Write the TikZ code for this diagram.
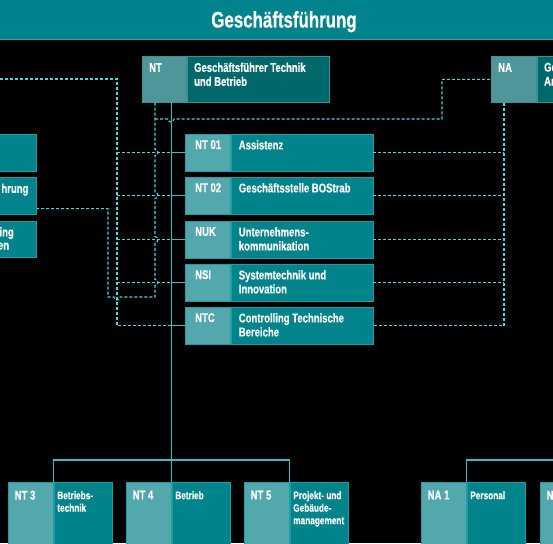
\documentclass[tikz,border=0pt]{standalone}
\usepackage{fontspec}
\newfontfamily\orgfont{Liberation Sans}[FakeStretch=0.75,FakeBold=0.6]
\usetikzlibrary{calc}
\definecolor{hdr}{HTML}{00838C}
\definecolor{hdrline}{HTML}{2EA3AB}
\definecolor{lpart}{HTML}{52A8AD}
\definecolor{dpart}{HTML}{00838B}
\definecolor{ntl}{HTML}{4E9699}
\definecolor{ntd}{HTML}{00676B}
\definecolor{edgec}{HTML}{1E9DA5}
\definecolor{ntedge}{HTML}{3E9094}
\definecolor{dashc}{HTML}{4ED5DD}
\definecolor{solidc}{HTML}{40BAC2}
\newcommand\listrow[4]{%
  \node[lightpart,minimum width=45pt,minimum height=37pt] (lc#1) at (185,#2) {};
  \node[darkpart,minimum width=142pt,minimum height=37pt] (ld#1) at (lc#1.north east) {};
  \node[codetxt] (lct#1) at ([shift={(10pt,-6pt)}]lc#1.north west) {#3};
  \node[nametxt] (ldt#1) at ([shift={(8pt,-6pt)}]ld#1.north west) {#4};
}
\newcommand\botrow[4]{%
  \node[lightpart,minimum width=45pt,minimum height=70pt] (#1c) at (#2,482) {};
  \node[darkpart,minimum width=58pt,minimum height=70pt] (#1) at (#1c.north east) {};
  \node[codetxt] (#1ct) at ([shift={(6.5pt,-8.5pt)}]#1c.north west) {#3};
  \node[smalltxt] (#1t) at ([shift={(3.5pt,-9pt)}]#1.north west) {#4};
}
\begin{document}
\begin{tikzpicture}[x=1pt,y=-1pt,
  lightpart/.style={rectangle,fill=lpart,draw=edgec,line width=0.6pt,inner sep=0pt,anchor=north west},
  darkpart/.style={rectangle,fill=dpart,draw=edgec,line width=0.6pt,inner sep=0pt,anchor=north west},
  codetxt/.style={anchor=north west,inner sep=0pt,text=white,align=left,font=\orgfont\bfseries\fontsize{12.7}{14}\selectfont},
  nametxt/.style={anchor=north west,inner sep=0pt,text=white,align=left,font=\orgfont\bfseries\fontsize{12.7}{14}\selectfont},
  smalltxt/.style={anchor=north west,inner sep=0pt,text=white,align=left,font=\orgfont\bfseries\fontsize{11}{12.5}\selectfont},
  titletxt/.style={anchor=base,inner sep=0pt,text=white,font=\orgfont\bfseries\fontsize{22.5}{26}\selectfont},
  dline/.style={draw=dashc,line width=1.1pt,dash pattern=on 3pt off 2pt},
  sline/.style={draw=solidc,line width=1.3pt}]
\fill[black] (0,0) rectangle (553,543);
\useasboundingbox (0,0) rectangle (553,543);
\clip (0,0) rectangle (553,543);
% header
\fill[hdr] (0,0) rectangle (553,39);
\draw[hdrline,line width=1.4pt] (0,39.3) -- (553,39.3);
\node[titletxt] (title) at (284,27.5) {Geschäftsführung};
% NT box
\node[lightpart,fill=ntl,draw=ntedge,minimum width=44pt,minimum height=46pt] (ntc) at (142,56) {};
\node[darkpart,fill=ntd,draw=ntedge,minimum width=142pt,minimum height=46pt] (nt) at (ntc.north east) {};
\node[codetxt] (ntct) at ([shift={(7pt,-7pt)}]ntc.north west) {NT};
\node[nametxt] (ntt) at ([shift={(7.3pt,-6.5pt)}]nt.north west) {Geschäftsführer Technik\\und Betrieb};
% NA box
\node[lightpart,fill=ntl,draw=ntedge,minimum width=45pt,minimum height=46pt] (nac) at (491,56) {};
\node[darkpart,fill=ntd,draw=ntedge,minimum width=150pt,minimum height=46pt] (na) at (nac.north east) {};
\node[codetxt] (nact) at ([shift={(7pt,-7pt)}]nac.north west) {NA};
\node[nametxt] (nat) at ([shift={(7.3pt,-6.5pt)}]na.north west) {Ge\\Ar};
% left boxes (cut off)
\node[darkpart,minimum width=50pt,minimum height=37pt] (lf1) at (-14,134) {};
\node[darkpart,minimum width=50pt,minimum height=37pt] (lf2) at (-14,177) {};
\node[darkpart,minimum width=50pt,minimum height=36pt] (lf3) at (-14,221) {};
\node[nametxt,anchor=north east] (lf2t) at ([shift={(-8pt,-6.5pt)}]lf2.north east) {hrung};
\node[nametxt,anchor=north east] (lf3t) at (14,227) {ing};
\node[nametxt,anchor=base east] (lf3u) at (9.3,249.5) {en};
% list boxes
\listrow{1}{134}{NT 01}{Assistenz}
\listrow{2}{177}{NT 02}{Geschäftsstelle BOStrab}
\listrow{3}{221}{NUK}{Unternehmens-\\kommunikation}
\listrow{4}{264}{NSI}{Systemtechnik und\\Innovation}
\listrow{5}{307}{NTC}{Controlling Technische\\Bereiche}
% bottom boxes
\botrow{nt3}{8}{NT 3}{Betriebs-\\technik}
\botrow{nt4}{126}{NT 4}{Betrieb}
\botrow{nt5}{244}{NT 5}{Projekt- und\\Gebäude-\\management}
\botrow{na1}{421}{NA 1}{Personal}
\botrow{na2}{540}{NA 2}{}
% coordinates
\coordinate (gfin) at (-5,79);
\coordinate (ax) at ([xshift=-68pt]lc5.west);
\coordinate (bx) at ([xshift=13pt]ntc.south west);
\coordinate (bj) at (155,119);
\coordinate (dx) at ([xshift=13pt]nac.south west);
\coordinate (rbus) at (560,460);
% dashed: left management to staff units
\draw[dline] (gfin) -| (ax) -- (lc5.west);
\foreach \i in {1,...,4} \draw[dline] (lc\i.west -| ax) -- (lc\i.west);
% dashed: NT down to left unit
\draw[dline] (bx) -- (155,149.5) .. controls (159,149.5) and (159,155.5) .. (155,155.5)
  -- (155,192.5) .. controls (159,192.5) and (159,198.5) .. (155,198.5)
  -- (155,236.5) .. controls (159,236.5) and (159,242.5) .. (155,242.5)
  -- (155,279.5) .. controls (159,279.5) and (159,285.5) .. (155,285.5)
  -- (155,297) -- (120,297) .. controls (120,301) and (114,301) .. (114,297)
  -- (108,297) |- ([yshift=6pt]lf2.south east);
% dashed: NT to NA
\draw[dline] (bj) -- (168,119) .. controls (168,123) and (174,123) .. (174,119) -- (442,119) |- (nac.west);
% dashed: NA to staff units
\draw[dline] (dx) |- (ld5.east);
\foreach \i in {1,...,4} \draw[dline] (ld\i.east) -- (ld\i.east -| dx);
% solid lines
\draw[sline] (nt4c.north east) -- (nt4c.north east |- ntc.south);
\draw[sline] (nt3c.north east) -- ++(0,-22) -| (nt5c.north east);
\draw[sline] (na1c.north east) -- ++(0,-22) -- (rbus);
\foreach \i in {1,...,5} \draw[sline] (lc\i.west) -- (lc\i.west -| nt4c.north east);
\end{tikzpicture}
\end{document}
